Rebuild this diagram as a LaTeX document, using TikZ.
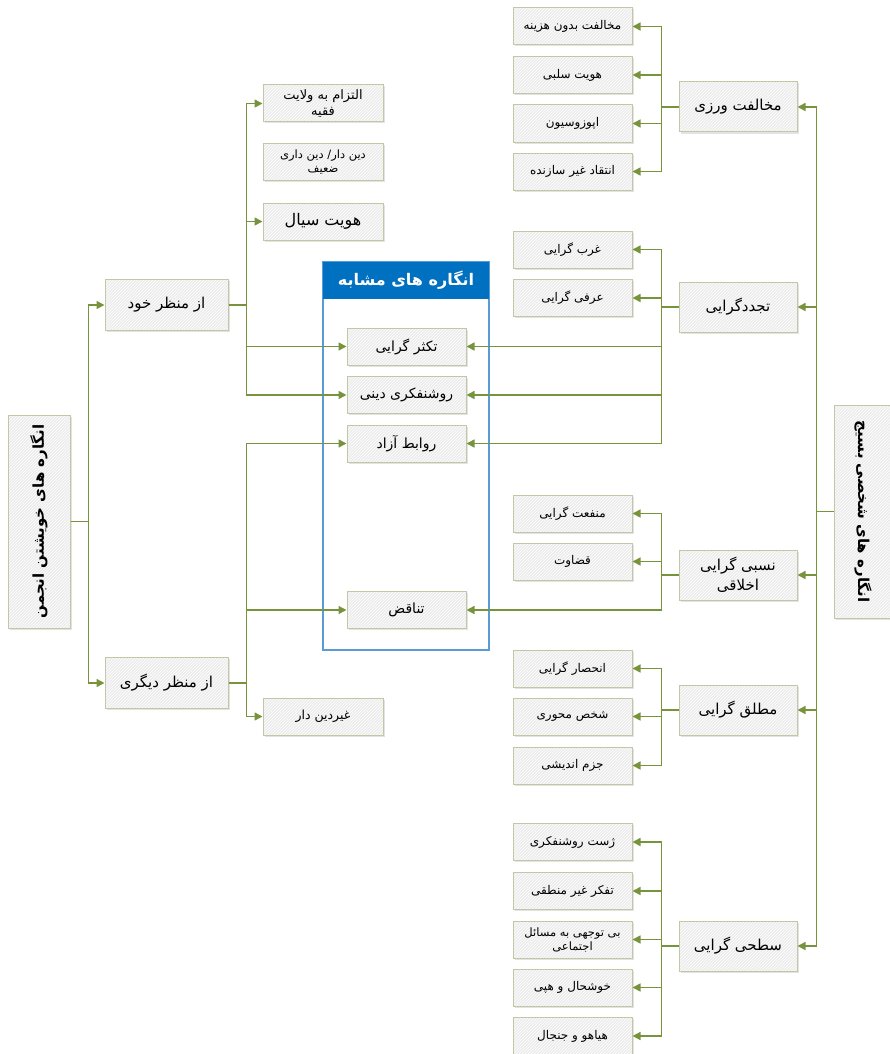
\documentclass[tikz,border=0pt]{standalone}
\usepackage{fontspec}
\usetikzlibrary{arrows.meta,patterns,shadows}
\newfontfamily\fa[Script=Arabic]{DejaVu Sans}
\TeXXeTstate=1
\newcommand{\rl}[1]{\beginR #1\endR}
\definecolor{linegreen}{HTML}{77933C}
\definecolor{boxfill}{HTML}{ECECEC}
\definecolor{boxline}{HTML}{C2C8A6}
\definecolor{grpblue}{HTML}{5B9BD5}
\definecolor{hdrblue}{HTML}{0070C0}

\tikzset{
  box/.style={draw=boxline, line width=1pt,
    drop shadow={shadow xshift=1.5pt, shadow yshift=-1.5pt, fill=black!22},
    preaction={fill=boxfill}, pattern=north east lines, pattern color=white,
    inner sep=2pt, align=center, text=black},
  leaf/.style={box, minimum width=119pt, minimum height=37pt, font=\fa\fontsize{12}{15}\selectfont},
  topic/.style={box, minimum width=118pt, minimum height=50pt, font=\fa\fontsize{15}{20}\selectfont},
  rootbox/.style={box, font=\fa\bfseries\fontsize{15}{18}\selectfont},
  link/.style={draw=linegreen, line width=1.5pt, -{Triangle[width=8pt,length=8pt]}},
}

\begin{document}
\begin{tikzpicture}[x=1pt,y=-1pt]
  \useasboundingbox (0,0) rectangle (890,1054);

  \node[draw=grpblue, line width=1.2pt, minimum width=166pt, minimum height=388pt, inner sep=0pt] (grp) at (406,456) {};
  \node[fill=hdrblue, minimum width=166pt, minimum height=37pt, inner sep=0pt, text=white, font=\fa\bfseries\fontsize{16}{19}\selectfont] (hdr) at (406,280.5) {\rl{انگاره های مشابه}};

  \node[rootbox, minimum width=62pt, minimum height=213pt] (self) at (39,521.5) {\rotatebox{90}{\rl{انگاره های خویشتن انجمن}}};
  \node[rootbox, minimum width=58pt, minimum height=213pt] (basij) at (863,511.5) {\rotatebox{-90}{\rl{انگاره های شخصی بسیج}}};

  \node[topic, minimum width=123pt, minimum height=51pt] (own) at (166.5,305) {\rl{از منظر خود}};
  \node[topic, minimum width=123pt, minimum height=51pt] (other) at (166.5,683) {\rl{از منظر دیگری}};

  \node[leaf, minimum width=120pt, font=\fa\fontsize{13}{16}\selectfont] (wilayat) at (323,103.5) {\rl{التزام به ولایت}\\\rl{فقیه}};
  \node[leaf, minimum width=120pt, font=\fa\fontsize{11.5}{14}\selectfont] (weak) at (323,162) {\rl{دین دار/ دین داری}\\\rl{ضعیف}};
  \node[leaf, minimum width=120pt, font=\fa\fontsize{16}{19}\selectfont] (fluid) at (323,221.5) {\rl{هویت سیال}};
  \node[leaf, minimum width=120pt, font=\fa\fontsize{12.5}{15}\selectfont] (nonrel) at (323,716.5) {\rl{غیردین دار}};

  \node[leaf, font=\fa\fontsize{14}{16}\selectfont] (plural) at (406.5,346.5) {\rl{تکثر گرایی}};
  \node[leaf, font=\fa\fontsize{14}{16}\selectfont] (relint) at (406.5,395) {\rl{روشنفکری دینی}};
  \node[leaf, font=\fa\fontsize{14}{16}\selectfont] (freerel) at (406.5,443.5) {\rl{روابط آزاد}};
  \node[leaf, font=\fa\fontsize{14}{16}\selectfont] (contra) at (406.5,610) {\rl{تناقض}};

  \node[topic] (oppose) at (738,107) {\rl{مخالفت ورزی}};
  \node[topic] (modern) at (738,307) {\rl{تجددگرایی}};
  \node[topic] (relat) at (738,575) {\rl{نسبی گرایی}\\\rl{اخلاقی}};
  \node[topic] (absol) at (738,710) {\rl{مطلق گرایی}};
  \node[topic] (superf) at (738,946) {\rl{سطحی گرایی}};

  \node[leaf] (op1) at (572.5,26.5) {\rl{مخالفت بدون هزینه}};
  \node[leaf] (op2) at (572.5,75) {\rl{هویت سلبی}};
  \node[leaf] (op3) at (572.5,123.5) {\rl{اپوزوسیون}};
  \node[leaf] (op4) at (572.5,171.5) {\rl{انتقاد غیر سازنده}};
  \node[leaf] (md1) at (572.5,249.5) {\rl{غرب گرایی}};
  \node[leaf] (md2) at (572.5,298) {\rl{عرفی گرایی}};
  \node[leaf] (rl1) at (572.5,513.5) {\rl{منفعت گرایی}};
  \node[leaf] (rl2) at (572.5,561.5) {\rl{قضاوت}};
  \node[leaf] (ab1) at (572.5,668.5) {\rl{انحصار گرایی}};
  \node[leaf] (ab2) at (572.5,716.5) {\rl{شخص محوری}};
  \node[leaf] (ab3) at (572.5,765.5) {\rl{جزم اندیشی}};
  \node[leaf] (sf1) at (572.5,842) {\rl{ژست روشنفکری}};
  \node[leaf] (sf2) at (572.5,891) {\rl{تفکر غیر منطقی}};
  \node[leaf, font=\fa\fontsize{11.5}{14}\selectfont] (sf3) at (572.5,939.5) {\rl{بی توجهی به مسائل}\\\rl{اجتماعی}};
  \node[leaf] (sf4) at (572.5,987.5) {\rl{خوشحال و هپی}};
  \node[leaf] (sf5) at (572.5,1036) {\rl{هیاهو و جنجال}};

  \draw[link] (self.east) -- ++(18,0) |- (own.west);
  \draw[link] (self.east) -- ++(18,0) |- (other.west);

  \draw[link] (own.east) -- ++(18,0) |- (wilayat.west);
  \draw[link] (own.east) -- ++(18,0) |- (fluid.west);
  \draw[link] (own.east) -- ++(18,0) |- (plural.west);
  \draw[link] (own.east) -- ++(18,0) |- (relint.west);
  \draw[link] (other.east) -- ++(18,0) |- (freerel.west);
  \draw[link] (other.east) -- ++(18,0) |- (contra.west);
  \draw[link] (other.east) -- ++(18,0) |- (nonrel.west);

  \draw[link] (basij.west) -- ++(-17,0) |- (oppose.east);
  \draw[link] (basij.west) -- ++(-17,0) |- (modern.east);
  \draw[link] (basij.west) -- ++(-17,0) |- (relat.east);
  \draw[link] (basij.west) -- ++(-17,0) |- (absol.east);
  \draw[link] (basij.west) -- ++(-17,0) |- (superf.east);

  \draw[link] (oppose.west) -- ++(-17,0) |- (op1.east);
  \draw[link] (oppose.west) -- ++(-17,0) |- (op2.east);
  \draw[link] (oppose.west) -- ++(-17,0) |- (op3.east);
  \draw[link] (oppose.west) -- ++(-17,0) |- (op4.east);
  \draw[link] (modern.west) -- ++(-17,0) |- (md1.east);
  \draw[link] (modern.west) -- ++(-17,0) |- (md2.east);
  \draw[link] (modern.west) -- ++(-17,0) |- (plural.east);
  \draw[link] (modern.west) -- ++(-17,0) |- (relint.east);
  \draw[link] (modern.west) -- ++(-17,0) |- (freerel.east);
  \draw[link] (relat.west) -- ++(-17,0) |- (rl1.east);
  \draw[link] (relat.west) -- ++(-17,0) |- (rl2.east);
  \draw[link] (relat.west) -- ++(-17,0) |- (contra.east);
  \draw[link] (absol.west) -- ++(-17,0) |- (ab1.east);
  \draw[link] (absol.west) -- ++(-17,0) |- (ab2.east);
  \draw[link] (absol.west) -- ++(-17,0) |- (ab3.east);
  \draw[link] (superf.west) -- ++(-17,0) |- (sf1.east);
  \draw[link] (superf.west) -- ++(-17,0) |- (sf2.east);
  \draw[link] (superf.west) -- ++(-17,0) |- (sf3.east);
  \draw[link] (superf.west) -- ++(-17,0) |- (sf4.east);
  \draw[link] (superf.west) -- ++(-17,0) |- (sf5.east);
\end{tikzpicture}
\end{document}
